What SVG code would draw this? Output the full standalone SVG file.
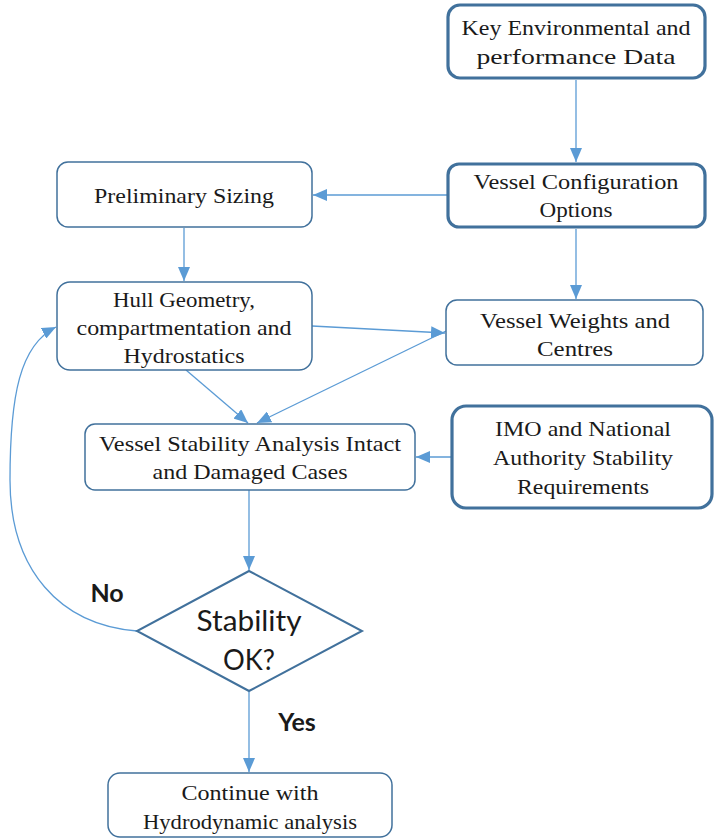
<svg xmlns="http://www.w3.org/2000/svg" width="715" height="839" viewBox="0 0 715 839">
<style>
.box{fill:#fff;stroke:#41719c;stroke-width:1.5}
.thick{stroke-width:3.2}
.t{font-family:'Liberation Serif','Times New Roman',Tinos,'DejaVu Serif',serif;font-size:22px;fill:#1a1a1a;text-anchor:middle}
.s{font-family:Lato,'Liberation Sans',sans-serif;fill:#1a1a1a;text-anchor:middle}
.c{fill:none;stroke:#5b9bd5;stroke-width:1.3}
</style>
<defs>
<marker id="a" viewBox="0 0 14 12" refX="14" refY="6" markerWidth="14" markerHeight="12" markerUnits="userSpaceOnUse" orient="auto">
<path d="M0,0 L14,6 L0,12 Z" fill="#5b9bd5"/>
</marker>
</defs>
<g id="connectors">
<line class="c" x1="576" y1="80" x2="576" y2="162" marker-end="url(#a)"/>
<line class="c" x1="447" y1="195" x2="313" y2="195" marker-end="url(#a)"/>
<line class="c" x1="184" y1="228" x2="184" y2="281" marker-end="url(#a)"/>
<line class="c" x1="576" y1="229" x2="576" y2="299" marker-end="url(#a)"/>
<line class="c" x1="312" y1="326" x2="445" y2="333" marker-end="url(#a)"/>
<line class="c" x1="446" y1="331" x2="257" y2="423" marker-end="url(#a)"/>
<line class="c" x1="186" y1="370" x2="248" y2="423" marker-end="url(#a)"/>
<line class="c" x1="452" y1="457" x2="416" y2="457" marker-end="url(#a)"/>
<line class="c" x1="249" y1="490" x2="249" y2="570" marker-end="url(#a)"/>
<line class="c" x1="249" y1="692" x2="249" y2="772" marker-end="url(#a)"/>
<path class="c" d="M137,631 C60,625 10,570 10,480 C10,395 20,345 56,327" marker-end="url(#a)"/>
</g>
<g id="key-data">
<rect class="box thick" x="448" y="5" width="257" height="73" rx="12"/>
<text class="t" x="576" y="35" textLength="229" lengthAdjust="spacingAndGlyphs">Key Environmental and</text>
<text class="t" x="576" y="64" textLength="199" lengthAdjust="spacingAndGlyphs">performance Data</text>
</g>
<g id="vessel-config">
<rect class="box thick" x="448" y="164" width="257" height="63" rx="11"/>
<text class="t" x="576" y="189" textLength="205" lengthAdjust="spacingAndGlyphs">Vessel Configuration</text>
<text class="t" x="576" y="217" textLength="73" lengthAdjust="spacingAndGlyphs">Options</text>
</g>
<g id="preliminary-sizing">
<rect class="box" x="57" y="162" width="255" height="65" rx="11"/>
<text class="t" x="184" y="203" textLength="180" lengthAdjust="spacingAndGlyphs">Preliminary Sizing</text>
</g>
<g id="hull-geometry">
<rect class="box" x="57" y="282" width="255" height="88" rx="13"/>
<text class="t" x="184" y="307" textLength="142" lengthAdjust="spacingAndGlyphs">Hull Geometry,</text>
<text class="t" x="184" y="335" textLength="215" lengthAdjust="spacingAndGlyphs">compartmentation and</text>
<text class="t" x="184" y="363" textLength="121" lengthAdjust="spacingAndGlyphs">Hydrostatics</text>
</g>
<g id="vessel-weights">
<rect class="box" x="446" y="300" width="257" height="65" rx="11"/>
<text class="t" x="575" y="328" textLength="190" lengthAdjust="spacingAndGlyphs">Vessel Weights and</text>
<text class="t" x="575" y="356" textLength="76" lengthAdjust="spacingAndGlyphs">Centres</text>
</g>
<g id="stability-analysis">
<rect class="box" x="85" y="424" width="330" height="66" rx="10"/>
<text class="t" x="250" y="451" textLength="302" lengthAdjust="spacingAndGlyphs">Vessel Stability Analysis Intact</text>
<text class="t" x="250" y="479" textLength="195" lengthAdjust="spacingAndGlyphs">and Damaged Cases</text>
</g>
<g id="imo-requirements">
<rect class="box thick" x="452" y="406" width="260" height="102" rx="14"/>
<text class="t" x="583" y="436" textLength="176" lengthAdjust="spacingAndGlyphs">IMO and National</text>
<text class="t" x="583" y="465" textLength="180" lengthAdjust="spacingAndGlyphs">Authority Stability</text>
<text class="t" x="583" y="494" textLength="132" lengthAdjust="spacingAndGlyphs">Requirements</text>
</g>
<g id="stability-ok">
<polygon points="249,571 362,631 249,691 137,631" fill="#fff" stroke="#41719c" stroke-width="2"/>
<text class="s" x="249" y="631" font-size="28" textLength="105" lengthAdjust="spacingAndGlyphs">Stability</text>
<text class="s" x="249" y="670" font-size="28" textLength="52" lengthAdjust="spacingAndGlyphs">OK?</text>
</g>
<g id="labels">
<text class="s" x="107" y="602" font-size="25" font-weight="bold">No</text>
<text class="s" x="297" y="731" font-size="25" font-weight="bold">Yes</text>
</g>
<g id="continue">
<rect class="box" x="108" y="773" width="284" height="64" rx="12"/>
<text class="t" x="250" y="800" textLength="137" lengthAdjust="spacingAndGlyphs">Continue with</text>
<text class="t" x="250" y="829" textLength="214" lengthAdjust="spacingAndGlyphs">Hydrodynamic analysis</text>
</g>
</svg>
